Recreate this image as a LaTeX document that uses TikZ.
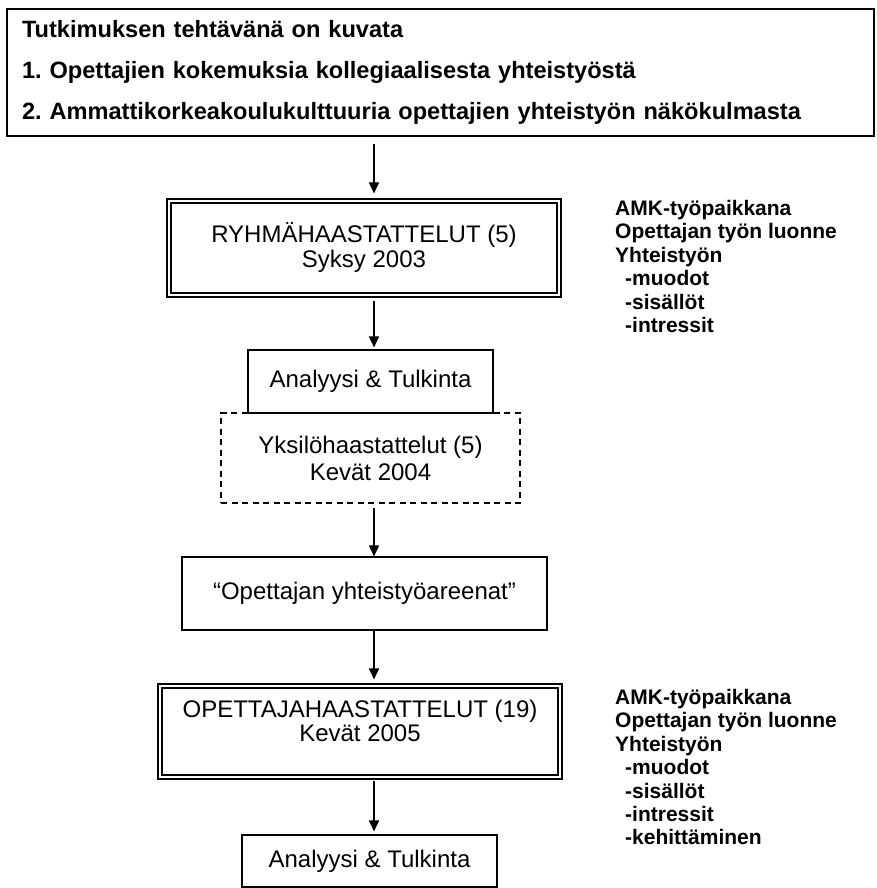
\documentclass[tikz,border=0pt]{standalone}
\usepackage{fontspec}
\setmainfont{Liberation Sans}
\usetikzlibrary{arrows.meta}
\frenchspacing
\begin{document}
\begin{tikzpicture}[x=1pt,y=-1pt,
  box/.style={draw, line width=1.1pt, inner sep=0pt, align=center, font=\fontsize{24}{25}\selectfont},
  dbox/.style={box, line width=1.1pt},
  inner/.style={line width=1.8pt},
  dashbox/.style={box, line width=2pt, dash pattern=on 6pt off 4.5pt, font=\fontsize{24}{27}\selectfont},
  arr/.style={line width=1.6pt, -{Triangle[length=11pt,width=10pt]}},
  side/.style={anchor=north west, inner sep=0pt, align=left, font=\fontsize{21}{23.4}\selectfont\bfseries}]
\useasboundingbox (0,0) rectangle (876,888);
\coordinate (axis) at (374,0);
% top box
\node[draw, line width=1.4pt, minimum width=867pt, minimum height=127pt, inner xsep=15pt, inner ysep=0pt,
      text width=837pt, align=left, font=\fontsize{23.6}{41}\selectfont\bfseries] (top) at (440.5,72.5)
  {Tutkimuksen tehtävänä on kuvata\\1. Opettajien kokemuksia kollegiaalisesta yhteistyöstä\\2. Ammattikorkeakoulukulttuuria opettajien yhteistyön näkökulmasta};
% group interviews
\node[dbox, minimum width=394pt, minimum height=98pt] (ryhma) at (364,248)
  {\raisebox{6pt}{\shortstack{RYHMÄHAASTATTELUT (5)\\[-1pt]Syksy 2003}}};
\draw[inner] ([shift={(4.5,4.5)}]ryhma.north west) rectangle ([shift={(-4.5,-4.5)}]ryhma.south east);
% dashed box
\node[dashbox, minimum width=299pt, minimum height=90pt] (yks) at (370.5,458)
  {Yksilöhaastattelut (5)\\Kevät 2004};
% analysis 1
\node[box, fill=white, minimum width=245pt, minimum height=63pt] (an1) at (370.5,381.5) {Analyysi \& Tulkinta};
% arenas
\node[box, minimum width=365pt, minimum height=73pt] (are) at (364.5,593.5) {“Opettajan yhteistyöareenat”};
% teacher interviews
\node[dbox, minimum width=404pt, minimum height=95pt] (ope) at (360,731.5)
  {\raisebox{22pt}{\shortstack{OPETTAJAHAASTATTELUT (19)\\[-1pt]Kevät 2005}}};
\draw[inner] ([shift={(4.5,4.5)}]ope.north west) rectangle ([shift={(-4.5,-4.5)}]ope.south east);
% analysis 2
\node[box, minimum width=255pt, minimum height=52pt] (an2) at (369.5,861) {Analyysi \& Tulkinta};
% side texts
\node[side] (s1) at (615,200) {AMK-työpaikkana\\Opettajan työn luonne\\Yhteistyön\\\hspace*{10pt}-muodot\\\hspace*{10pt}-sisällöt\\\hspace*{10pt}-intressit};
\node[side] (s2) at (615,689) {AMK-työpaikkana\\Opettajan työn luonne\\Yhteistyön\\\hspace*{10pt}-muodot\\\hspace*{10pt}-sisällöt\\\hspace*{10pt}-intressit\\\hspace*{10pt}-kehittäminen};
% arrows
\draw[arr, shorten <=7pt, shorten >=5pt] (top.south -| axis) -- (ryhma.north -| axis);
\draw[arr, shorten <=3pt, shorten >=2pt] (ryhma.south -| axis) -- (an1.north -| axis);
\draw[arr, shorten <=4pt] (yks.south -| axis) -- (are.north -| axis);
\draw[arr, shorten >=4pt] (are.south -| axis) -- (ope.north -| axis);
\draw[arr, shorten <=1pt, shorten >=3pt] (ope.south -| axis) -- (an2.north -| axis);
\end{tikzpicture}
\end{document}
